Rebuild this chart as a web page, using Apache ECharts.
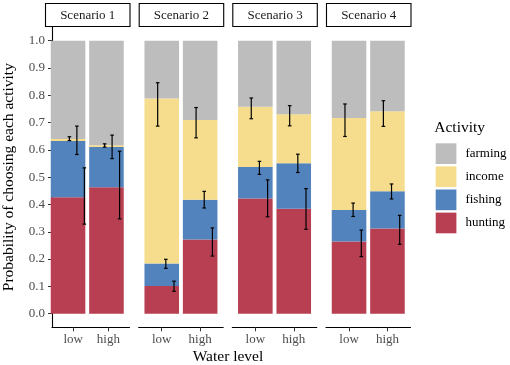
<!DOCTYPE html>
<html><head><meta charset="utf-8">
<script src="https://cdn.jsdelivr.net/npm/echarts@6/dist/echarts.min.js"></script>
<style>html,body{margin:0;padding:0;background:#fff}#c{width:510px;height:365px}</style>
</head><body><div id="c"></div><script>
// ---------- data ----------
const scenarios = ['Scenario 1', 'Scenario 2', 'Scenario 3', 'Scenario 4'];
const waterLevels = ['low', 'high'];
const activities = ['farming', 'income', 'fishing', 'hunting'];
const yTicks = [0, 0.1, 0.2, 0.3, 0.4, 0.5, 0.6, 0.7, 0.8, 0.9, 1.0];
// stacked segment shares; order: S1 low, S1 high, S2 low, S2 high, S3 low, S3 high, S4 low, S4 high
const hunting = [0.426, 0.463, 0.101, 0.272, 0.422, 0.384, 0.264, 0.312];
const fishing = [0.206, 0.147, 0.083, 0.145, 0.115, 0.167, 0.116, 0.136];
const income  = [0.008, 0.007, 0.604, 0.292, 0.221, 0.179, 0.337, 0.293];
const farming = [0.360, 0.383, 0.212, 0.291, 0.242, 0.270, 0.283, 0.259];
// error bar limits (cumulative probability scale), same order
const incomeLow   = [0.634, 0.610, 0.687, 0.644, 0.714, 0.688, 0.649, 0.686];
const incomeHigh  = [0.648, 0.622, 0.846, 0.755, 0.790, 0.762, 0.768, 0.780];
const fishingLow  = [0.583, 0.568, 0.166, 0.387, 0.510, 0.517, 0.356, 0.420];
const fishingHigh = [0.687, 0.654, 0.199, 0.448, 0.558, 0.584, 0.405, 0.475];
const huntingLow  = [0.328, 0.347, 0.082, 0.211, 0.355, 0.309, 0.209, 0.254];
const huntingHigh = [0.534, 0.595, 0.119, 0.314, 0.490, 0.458, 0.306, 0.360];

// ---------- style / layout ----------
const FONT = 'Liberation Serif';
const colors = { farming: '#bdbdbd', income: '#f6dd8d', fishing: '#5283bc', hunting: '#b83e51' };
const segs = { hunting, fishing, income, farming };
const errs = {
  income: [incomeLow, incomeHigh],
  fishing: [fishingLow, fishingHigh],
  hunting: [huntingLow, huntingHigh]
};
const dodge = { income: -0.106, fishing: 0.106, hunting: 0.319 };
const panelLeft = [45, 138.7, 232.3, 326];
const panelW = 84.5, gridTop = 27, gridH = 300.3;
const unit = panelW / 2.2;   // px per x-unit, x range 0.4 .. 2.6
const N = scenarios.length;

const grids = [], xAxes = [], yAxes = [], series = [], graphics = [];
scenarios.forEach((sc, i) => {
  // outer grid (axes, error bars)
  grids.push({ left: panelLeft[i], top: gridTop, width: panelW, height: gridH });
  xAxes.push({
    type: 'value', gridIndex: i, min: 0.4, max: 2.6,
    axisLine: { show: true, onZero: false, lineStyle: { color: '#000', width: 1.1 } },
    axisTick: { show: true, customValues: [1, 2], length: 4, lineStyle: { color: '#333', width: 1 } },
    axisLabel: { customValues: [1, 2], formatter: v => waterLevels[Math.round(v) - 1],
      fontFamily: FONT, fontSize: 13, color: '#4d4d4d', margin: 6 },
    splitLine: { show: false }
  });
  yAxes.push({
    type: 'value', gridIndex: i, min: -0.05, max: 1.05, show: i === 0,
    axisLine: { show: true, onZero: false, lineStyle: { color: '#000', width: 1.1 } },
    axisTick: { show: true, customValues: yTicks, length: 4, lineStyle: { color: '#333', width: 1 } },
    axisLabel: { customValues: yTicks, formatter: v => v.toFixed(1),
      fontFamily: FONT, fontSize: 13, color: '#4d4d4d', margin: 7 },
    splitLine: { show: false },
    name: i === 0 ? 'Probability of choosing each activity' : '',
    nameLocation: 'middle', nameGap: 35,
    nameTextStyle: { fontFamily: FONT, fontSize: 15.5, color: '#000' }
  });
  const ebData = [];
  waterLevels.forEach((w, j) => {
    ['income', 'fishing', 'hunting'].forEach(act => {
      ebData.push([j + 1 + dodge[act], errs[act][0][i * 2 + j], errs[act][1][i * 2 + j]]);
    });
  });
  series.push({
    type: 'custom', xAxisIndex: i, yAxisIndex: i, z: 10, clip: false,
    encode: { x: 0, y: [1, 2] },
    data: ebData,
    renderItem: (params, api) => {
      const x = api.value(0), lo = api.value(1), hi = api.value(2);
      const p1 = api.coord([x, lo]), p2 = api.coord([x, hi]);
      const hw = 1.8;
      const style = { stroke: '#000', lineWidth: 1.2 };
      return { type: 'group', children: [
        { type: 'line', shape: { x1: p1[0], y1: p1[1], x2: p2[0], y2: p2[1] }, style },
        { type: 'line', shape: { x1: p1[0] - hw, y1: p1[1], x2: p1[0] + hw, y2: p1[1] }, style },
        { type: 'line', shape: { x1: p2[0] - hw, y1: p2[1], x2: p2[0] + hw, y2: p2[1] }, style }
      ] };
    }
  });
  // facet strip
  graphics.push({ type: 'rect', shape: { x: panelLeft[i] + 0.5, y: 3.5, width: panelW, height: 23 },
    style: { fill: '#fff', stroke: '#000', lineWidth: 1.1 } });
  graphics.push({ type: 'text', x: panelLeft[i] + 0.5 + panelW / 2, y: 15.3,
    style: { text: sc, font: '13px "' + FONT + '"', fill: '#1a1a1a', textAlign: 'center', textVerticalAlign: 'middle' } });
});
// inner grids (category axes for the stacked bars)
scenarios.forEach((sc, i) => {
  const g = N + i;
  grids.push({ left: panelLeft[i] + 0.1 * unit, top: gridTop, width: 2 * unit, height: gridH });
  xAxes.push({ type: 'category', gridIndex: g, data: waterLevels, show: false });
  yAxes.push({ type: 'value', gridIndex: g, min: -0.05, max: 1.05, show: false });
  ['hunting', 'fishing', 'income', 'farming'].forEach(act => {
    series.push({
      type: 'bar', name: act, xAxisIndex: g, yAxisIndex: g, stack: 'st' + i,
      barWidth: 0.9 * unit, z: 2,
      itemStyle: { color: colors[act] },
      data: segs[act].slice(i * 2, i * 2 + 2)
    });
  });
});
graphics.push({ type: 'text', x: 228, y: 356.5,
  style: { text: 'Water level', font: '15.5px "' + FONT + '"', fill: '#000', textAlign: 'center', textVerticalAlign: 'middle' } });
graphics.push({ type: 'text', x: 434.3, y: 128.3,
  style: { text: 'Activity', font: '15.5px "' + FONT + '"', fill: '#000', textAlign: 'left', textVerticalAlign: 'middle' } });

const chart = echarts.init(document.getElementById('c'), null, { renderer: 'canvas' });
chart.setOption({
  animation: false,
  backgroundColor: '#fff',
  grid: grids, xAxis: xAxes, yAxis: yAxes, series,
  legend: {
    data: activities, orient: 'vertical', left: 435.7, top: 143.3, padding: 0,
    icon: 'rect', itemWidth: 20.7, itemHeight: 20.7, itemGap: 2.4,
    textStyle: { fontFamily: FONT, fontSize: 13, color: '#000', padding: [0, 0, 0, 4] },
    selectedMode: false
  },
  graphic: graphics
});
</script></body></html>
